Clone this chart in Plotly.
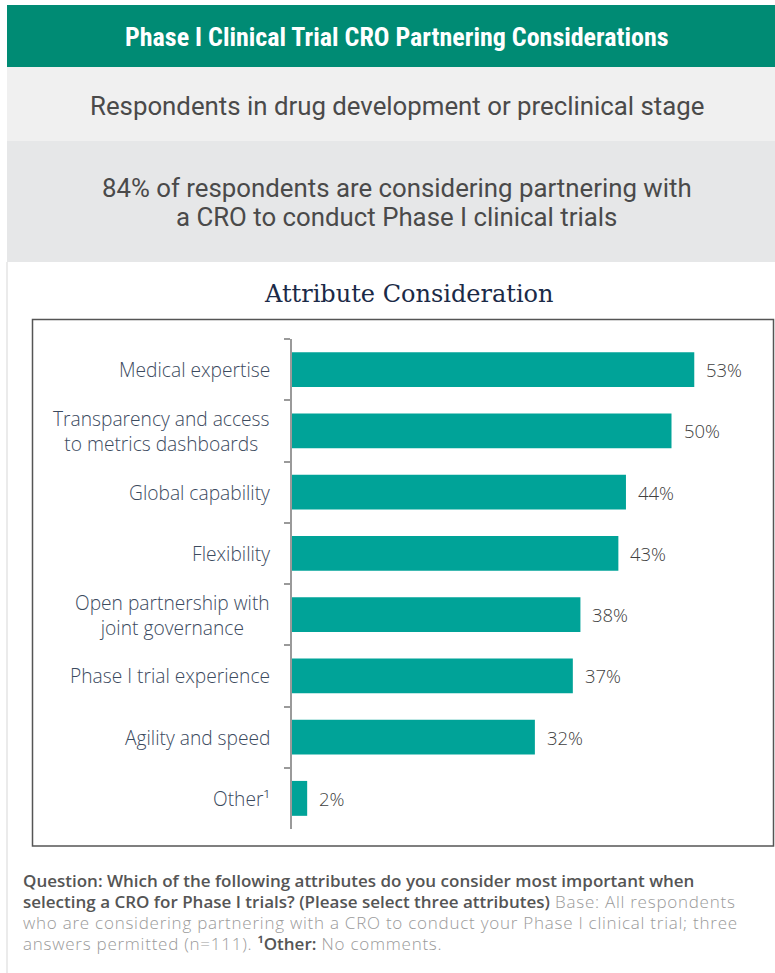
import plotly.graph_objects as go

W, H = 775, 973

categories = [
    "Medical expertise",
    "Transparency and access<br>to metrics dashboards",
    "Global capability",
    "Flexibility",
    "Open partnership with<br>joint governance",
    "Phase I trial experience",
    "Agility and speed",
    "Other¹",
]
values = [53, 50, 44, 43, 38, 37, 32, 2]
value_labels = ["53%", "50%", "44%", "43%", "38%", "37%", "32%", "2%"]

header_title = "Phase I Clinical Trial CRO Partnering Considerations"
subtitle_1 = "Respondents in drug development or preclinical stage"
subtitle_2a = "84% of respondents are considering partnering with"
subtitle_2b = "a CRO to conduct Phase I clinical trials"
chart_title = "Attribute Consideration"
B = "<span style='color:#555555;font-weight:600;font-size:17px'>"
R = "<span style='font-size:17px;letter-spacing:0.75px'>"
footer_lines = [
    B + "Question: Which of the following attributes do you consider most important when</span>",
    B + "selecting a CRO for Phase I trials? (Please select three attributes)</span>" + R + " Base: All respondents</span>",
    R + "who are considering partnering with a CRO to conduct your Phase I clinical trial; three</span>",
    R + "answers permitted (n=111). </span>" + B + "¹Other:</span>" + R + " No comments.</span>",
]


def px(x):
    return x / W


def py(y):
    return 1 - y / H


TEAL = "#00a398"
GREEN = "#008b74"
LABEL = "#3b4a5e"

fig = go.Figure()
fig.add_trace(go.Bar(
    x=values, y=categories, orientation="h",
    marker=dict(color=TEAL, line=dict(width=0)),
    hoverinfo="skip",
))

x_left, x_right = 292, 772
scale = 7.59
y_top, y_bot = 339, 829

shapes = [
    dict(type="rect", xref="paper", yref="paper", x0=px(7), x1=1.0, y0=py(67), y1=py(5),
         fillcolor=GREEN, line=dict(width=0), layer="below"),
    dict(type="rect", xref="paper", yref="paper", x0=px(7), x1=1.0, y0=py(141), y1=py(67),
         fillcolor="#f0f0f0", line=dict(width=0), layer="below"),
    dict(type="rect", xref="paper", yref="paper", x0=px(7), x1=1.0, y0=py(262), y1=py(141),
         fillcolor="#e6e7e8", line=dict(width=0), layer="below"),
    dict(type="line", xref="paper", yref="paper", x0=px(7), x1=px(7), y0=0, y1=py(262),
         line=dict(color="#ebebeb", width=2), layer="below"),
    dict(type="rect", xref="paper", yref="paper", x0=px(32.5), x1=px(773.5), y0=py(846), y1=py(319.5),
         line=dict(color="#555555", width=1.5), layer="below"),
]

SUB_FONT = dict(family="Liberation Sans Narrow, Roboto", size=25.8, color="#4a4a4a")
annotations = [
    dict(text=header_title, xref="paper", yref="paper", x=px(397), y=py(37), showarrow=False,
         xanchor="center", yanchor="middle",
         font=dict(family="Liberation Sans Narrow, Roboto Condensed, Roboto", size=26, color="white", weight="bold")),
    dict(text=subtitle_1, xref="paper", yref="paper", x=px(397), y=py(106), showarrow=False,
         xanchor="center", yanchor="middle", font=SUB_FONT),
    dict(text=subtitle_2a, xref="paper", yref="paper", x=px(397), y=py(188), showarrow=False,
         xanchor="center", yanchor="middle", font=SUB_FONT),
    dict(text=subtitle_2b, xref="paper", yref="paper", x=px(397), y=py(217), showarrow=False,
         xanchor="center", yanchor="middle", font=SUB_FONT),
    dict(text=chart_title, xref="paper", yref="paper", x=px(408), y=py(294), showarrow=False,
         xanchor="center", yanchor="middle",
         font=dict(family="DejaVu Serif", size=24, color="#1b2a47")),
    dict(text="<br>".join(footer_lines), xref="paper", yref="paper", x=px(21), y=py(911.5),
         showarrow=False, xanchor="left", yanchor="middle", align="left",
         font=dict(family="Open Sans", size=16.2, color="#9a9a9a", weight=300)),
]

for c, v, t in zip(categories, values, value_labels):
    annotations.append(dict(
        text=c, xref="paper", yref="y", x=px(x_left), y=c, xshift=-20,
        xanchor="right", yanchor="middle", align="center", showarrow=False,
        font=dict(family="Open Sans", size=19.2, color=LABEL, weight=300)))
    annotations.append(dict(
        text=t, xref="x", yref="y", x=v, y=c, xshift=10,
        xanchor="left", yanchor="middle", showarrow=False,
        font=dict(family="Open Sans", size=18.5, color="#404040", weight=300)))

fig.update_layout(
    width=W, height=H,
    margin=dict(l=0, r=0, t=0, b=0),
    paper_bgcolor="white", plot_bgcolor="white",
    showlegend=False,
    bargap=0.43,
    shapes=shapes,
    annotations=annotations,
    xaxis=dict(domain=[px(x_left), px(x_right)], range=[0, (x_right - x_left) / scale],
               visible=False, fixedrange=True),
    yaxis=dict(domain=[py(y_bot), py(y_top)], autorange="reversed", type="category",
               showticklabels=False, tickson="boundaries", ticks="outside", ticklen=6,
               tickcolor="#9a9a9a", tickwidth=1.5, showline=True, linecolor="#9a9a9a",
               linewidth=1.5, showgrid=False, zeroline=False, fixedrange=True),
)

fig.write_html("out.html")
